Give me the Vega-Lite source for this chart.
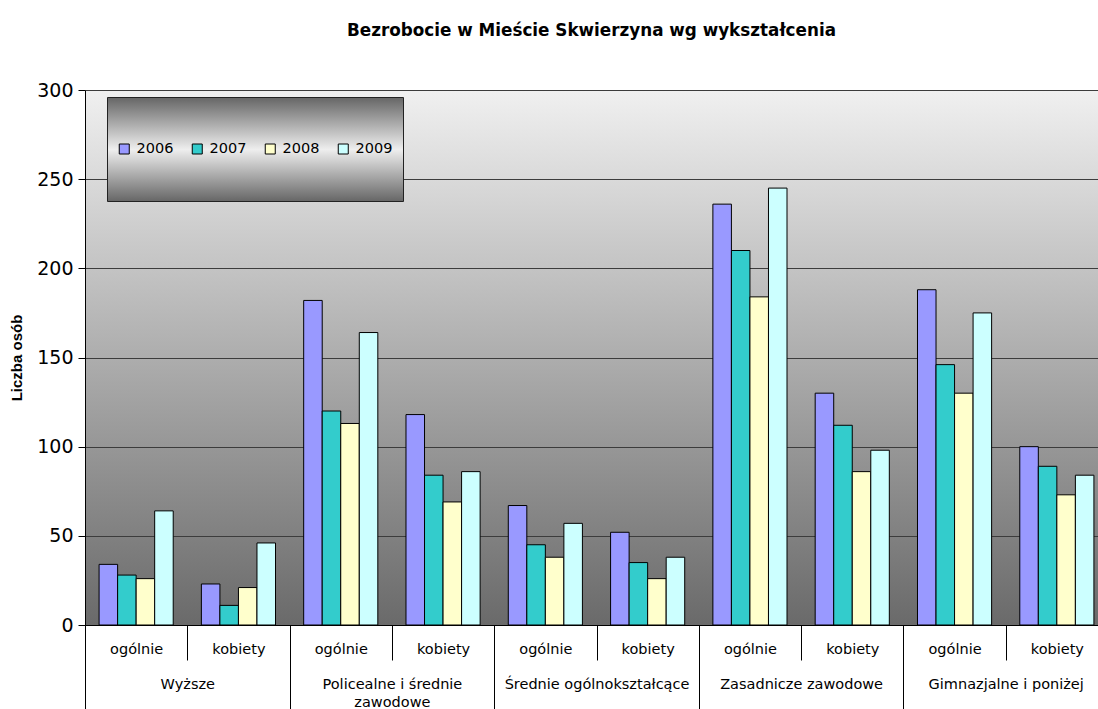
{
  "$schema": "https://vega.github.io/schema/vega-lite/v6.json",
  "autosize": "none",
  "width": 1013,
  "height": 535,
  "padding": {"left": 85, "top": 90, "right": 0, "bottom": 84},
  "background": "white",
  "title": {
    "text": "Bezrobocie w Mieście Skwierzyna wg wykształcenia",
    "font": "DejaVu Sans",
    "fontSize": 16.8,
    "fontWeight": "bold",
    "color": "black",
    "anchor": "middle",
    "offset": 41
  },
  "view": {
    "stroke": null,
    "fill": {
      "gradient": "linear",
      "x1": 0, "y1": 0, "x2": 0, "y2": 1,
      "stops": [
        {"offset": 0, "color": "#f0f0f0"},
        {"offset": 1, "color": "#6a6a6a"}
      ]
    }
  },
  "data": {
    "values": [
      {"group": "Wyższe", "cat": "Wyższe|ogólnie", "year": "2006", "value": 34},
      {"group": "Wyższe", "cat": "Wyższe|ogólnie", "year": "2007", "value": 28},
      {"group": "Wyższe", "cat": "Wyższe|ogólnie", "year": "2008", "value": 26},
      {"group": "Wyższe", "cat": "Wyższe|ogólnie", "year": "2009", "value": 64},
      {"group": "Wyższe", "cat": "Wyższe|kobiety", "year": "2006", "value": 23},
      {"group": "Wyższe", "cat": "Wyższe|kobiety", "year": "2007", "value": 11},
      {"group": "Wyższe", "cat": "Wyższe|kobiety", "year": "2008", "value": 21},
      {"group": "Wyższe", "cat": "Wyższe|kobiety", "year": "2009", "value": 46},
      {"group": "Policealne i średnie zawodowe", "cat": "Policealne|ogólnie", "year": "2006", "value": 182},
      {"group": "Policealne i średnie zawodowe", "cat": "Policealne|ogólnie", "year": "2007", "value": 120},
      {"group": "Policealne i średnie zawodowe", "cat": "Policealne|ogólnie", "year": "2008", "value": 113},
      {"group": "Policealne i średnie zawodowe", "cat": "Policealne|ogólnie", "year": "2009", "value": 164},
      {"group": "Policealne i średnie zawodowe", "cat": "Policealne|kobiety", "year": "2006", "value": 118},
      {"group": "Policealne i średnie zawodowe", "cat": "Policealne|kobiety", "year": "2007", "value": 84},
      {"group": "Policealne i średnie zawodowe", "cat": "Policealne|kobiety", "year": "2008", "value": 69},
      {"group": "Policealne i średnie zawodowe", "cat": "Policealne|kobiety", "year": "2009", "value": 86},
      {"group": "Średnie ogólnokształcące", "cat": "Średnie|ogólnie", "year": "2006", "value": 67},
      {"group": "Średnie ogólnokształcące", "cat": "Średnie|ogólnie", "year": "2007", "value": 45},
      {"group": "Średnie ogólnokształcące", "cat": "Średnie|ogólnie", "year": "2008", "value": 38},
      {"group": "Średnie ogólnokształcące", "cat": "Średnie|ogólnie", "year": "2009", "value": 57},
      {"group": "Średnie ogólnokształcące", "cat": "Średnie|kobiety", "year": "2006", "value": 52},
      {"group": "Średnie ogólnokształcące", "cat": "Średnie|kobiety", "year": "2007", "value": 35},
      {"group": "Średnie ogólnokształcące", "cat": "Średnie|kobiety", "year": "2008", "value": 26},
      {"group": "Średnie ogólnokształcące", "cat": "Średnie|kobiety", "year": "2009", "value": 38},
      {"group": "Zasadnicze zawodowe", "cat": "Zasadnicze|ogólnie", "year": "2006", "value": 236},
      {"group": "Zasadnicze zawodowe", "cat": "Zasadnicze|ogólnie", "year": "2007", "value": 210},
      {"group": "Zasadnicze zawodowe", "cat": "Zasadnicze|ogólnie", "year": "2008", "value": 184},
      {"group": "Zasadnicze zawodowe", "cat": "Zasadnicze|ogólnie", "year": "2009", "value": 245},
      {"group": "Zasadnicze zawodowe", "cat": "Zasadnicze|kobiety", "year": "2006", "value": 130},
      {"group": "Zasadnicze zawodowe", "cat": "Zasadnicze|kobiety", "year": "2007", "value": 112},
      {"group": "Zasadnicze zawodowe", "cat": "Zasadnicze|kobiety", "year": "2008", "value": 86},
      {"group": "Zasadnicze zawodowe", "cat": "Zasadnicze|kobiety", "year": "2009", "value": 98},
      {"group": "Gimnazjalne i poniżej", "cat": "Gimnazjalne|ogólnie", "year": "2006", "value": 188},
      {"group": "Gimnazjalne i poniżej", "cat": "Gimnazjalne|ogólnie", "year": "2007", "value": 146},
      {"group": "Gimnazjalne i poniżej", "cat": "Gimnazjalne|ogólnie", "year": "2008", "value": 130},
      {"group": "Gimnazjalne i poniżej", "cat": "Gimnazjalne|ogólnie", "year": "2009", "value": 175},
      {"group": "Gimnazjalne i poniżej", "cat": "Gimnazjalne|kobiety", "year": "2006", "value": 100},
      {"group": "Gimnazjalne i poniżej", "cat": "Gimnazjalne|kobiety", "year": "2007", "value": 89},
      {"group": "Gimnazjalne i poniżej", "cat": "Gimnazjalne|kobiety", "year": "2008", "value": 73},
      {"group": "Gimnazjalne i poniżej", "cat": "Gimnazjalne|kobiety", "year": "2009", "value": 84}
    ]
  },
  "resolve": {"scale": {"x": "independent"}},
  "layer": [
    {
      "mark": {"type": "bar", "stroke": "black", "strokeWidth": 1},
      "encoding": {
        "x": {
          "field": "cat", "type": "nominal", "sort": null,
          "scale": {"range": [0, 1023], "paddingInner": 0, "paddingOuter": 0},
          "axis": {
            "orient": "bottom",
            "title": null,
            "tickBand": "extent",
            "tickSize": 35,
            "tickColor": "black",
            "domainColor": "black",
            "labelPadding": -18,
            "labelFont": "DejaVu Sans",
            "labelFontSize": 14.5,
            "labelColor": "black",
            "labelAngle": 0,
            "labelOverlap": false,
            "labelLimit": 300,
            "labelExpr": "split(datum.value, '|')[1]",
            "grid": false
          }
        },
        "xOffset": {
          "field": "year", "type": "nominal",
          "scale": {"paddingInner": 0, "paddingOuter": 0.76}
        },
        "y": {
          "field": "value", "type": "quantitative",
          "scale": {"domain": [0, 300], "nice": false},
          "axis": {
            "title": "Liczba osób",
            "titleFont": "Liberation Sans",
            "titleFontSize": 15,
            "titleFontWeight": "bold",
            "titleColor": "black",
            "titlePadding": 12,
            "values": [0, 50, 100, 150, 200, 250, 300],
            "tickSize": 7,
            "tickColor": "black",
            "domainColor": "black",
            "labelFont": "DejaVu Sans",
            "labelFontSize": 19,
            "labelColor": "black",
            "labelPadding": 5,
            "grid": true,
            "gridColor": "#3c3c3c",
            "gridWidth": 1,
            "gridOpacity": 1
          }
        },
        "color": {
          "field": "year", "type": "nominal",
          "scale": {"domain": ["2006", "2007", "2008", "2009"], "range": ["#9999ff", "#33cccc", "#ffffcc", "#ccffff"]},
          "legend": {
            "title": null,
            "orient": "none",
            "legendX": 22,
            "legendY": 7,
            "direction": "horizontal",
            "columns": 4,
            "columnPadding": 16,
            "padding": 10,
            "clipHeight": 84,
            "strokeColor": "#222222",
            "fillColor": {"value": {
              "gradient": "linear",
              "x1": 0, "y1": 0, "x2": 0, "y2": 1,
              "stops": [
                {"offset": 0, "color": "#666666"},
                {"offset": 0.5, "color": "#eeeeee"},
                {"offset": 1, "color": "#666666"}
              ]
            }},
            "symbolType": "square",
            "symbolSize": 100,
            "symbolStrokeColor": "black",
            "symbolStrokeWidth": 1,
            "symbolOpacity": 1,
            "labelFont": "DejaVu Sans",
            "labelFontSize": 14.5,
            "labelColor": "black",
            "labelOffset": 5
          }
        }
      }
    },
    {
      "mark": {"type": "point", "opacity": 0},
      "encoding": {
        "x": {
          "field": "group", "type": "nominal", "sort": null,
          "scale": {"range": [0, 1023], "paddingInner": 0, "paddingOuter": 0},
          "axis": {
            "orient": "bottom",
            "title": null,
            "tickBand": "extent",
            "tickSize": 84,
            "tickColor": "black",
            "domain": false,
            "labelPadding": -32,
            "labelFont": "DejaVu Sans",
            "labelFontSize": 14.5,
            "labelColor": "black",
            "labelAngle": 0,
            "labelOverlap": false,
            "labelLimit": 400,
            "labelLineHeight": 18,
            "labelExpr": "datum.value == 'Policealne i średnie zawodowe' ? ['Policealne i średnie', 'zawodowe'] : datum.value",
            "grid": false
          }
        }
      }
    }
  ]
}
